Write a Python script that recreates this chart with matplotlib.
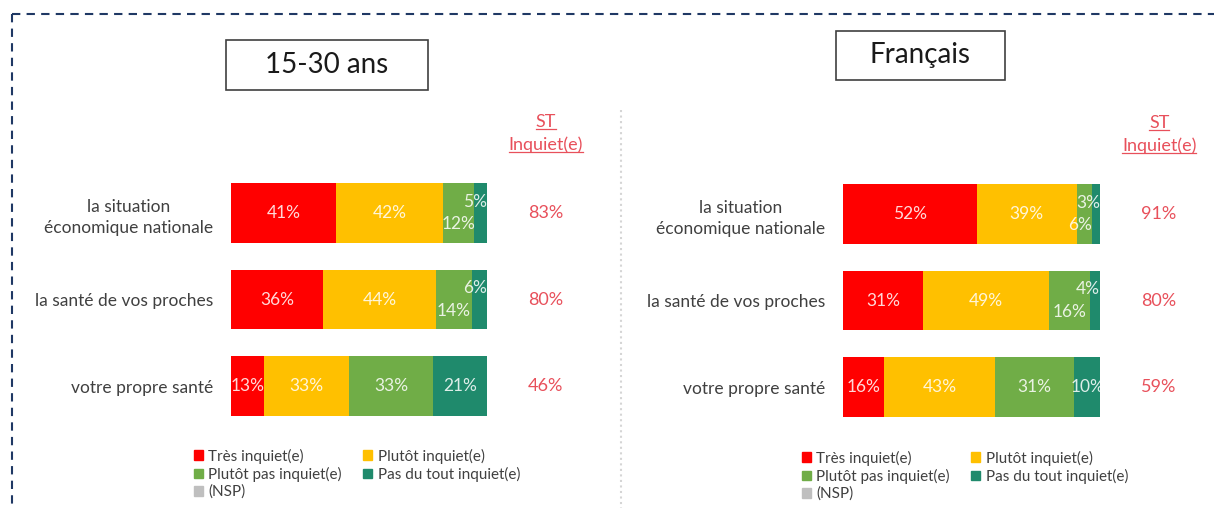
import numpy as np
import matplotlib.pyplot as plt
from matplotlib.patches import Rectangle, Patch
from matplotlib.lines import Line2D

plt.rcParams['font.family'] = ['Lato', 'DejaVu Sans']

# data
items = ["la situation\néconomique nationale", "la santé de vos proches", "votre propre santé"]
series = ["Très inquiet(e)", "Plutôt inquiet(e)", "Plutôt pas inquiet(e)", "Pas du tout inquiet(e)", "(NSP)"]
colors = ["#FF0000", "#FFC000", "#70AD47", "#1F8A6C", "#BFBFBF"]

jeunes = [[41, 42, 12, 5], [36, 44, 14, 6], [13, 33, 33, 21]]
jeunes_st = [83, 80, 46]
francais = [[52, 39, 6, 3], [31, 49, 16, 4], [16, 43, 31, 10]]
francais_st = [91, 80, 59]

W, H = 1214, 508
fig = plt.figure(figsize=(W / 100, H / 100), dpi=100)
red_txt = "#E8505B"


def px_axes(x0, y0, x1, y1):
    return fig.add_axes([x0 / W, 1 - y1 / H, (x1 - x0) / W, (y1 - y0) / H])


def draw_panel(ax, data, st):
    data = np.array(data)
    rows = np.arange(len(items))
    left = np.zeros(len(items))
    n = data.shape[1]
    for j in range(n):
        vals = data[:, j]
        ax.barh(rows, vals, left=left, height=0.69, color=colors[j])
        for i, v in enumerate(vals):
            last = data[i, -1]
            dy, ha, xx = 0, "center", left[i] + v / 2
            # small end segment: Excel pushes labels apart
            if last < 8 and j == n - 1:
                dy, ha, xx = 8, "right", 100
            elif last < 8 and j == n - 2:
                dy = -8
                if v < 8:
                    ha, xx = "right", left[i] + v
            ax.annotate(f"{v}%", (xx, i), xytext=(0, dy), textcoords="offset points",
                        ha=ha, va="center", fontsize=12.5, color="white", alpha=0.85,
                        annotation_clip=False)
        left += vals
    for i, v in enumerate(st):
        ax.text(123, i, f"{v}%", ha="center", va="center", fontsize=13, color=red_txt, clip_on=False)
    t1 = ax.text(123, -1.05, "ST", ha="center", va="center", fontsize=13, color=red_txt)
    t2 = ax.text(123, -0.79, "Inquiet(e)", ha="center", va="center", fontsize=13, color=red_txt)
    ax.set_xlim(0, 100)
    ax.set_ylim(2.5, -0.5)
    ax.set_yticks(np.arange(len(items)))
    ax.set_yticklabels(items, fontsize=12.5, color="#404040", multialignment="center",
                       linespacing=1.45)
    ax.tick_params(axis="y", length=0, pad=13)
    ax.set_xticks([])
    for s in ax.spines.values():
        s.set_visible(False)
    return [t1, t2]


ax1 = px_axes(231, 169.75, 487, 429.25)
ax2 = px_axes(843, 169.75 + 1, 1100, 429.25 + 1)
heads = draw_panel(ax1, jeunes, jeunes_st) + draw_panel(ax2, francais, francais_st)

# title boxes
for (x0, y0, x1, y1), label in [((226, 40, 428, 90), "15-30 ans"), ((836, 31, 1005, 80), "Français")]:
    fig.add_artist(Rectangle((x0 / W, 1 - y1 / H), (x1 - x0) / W, (y1 - y0) / H,
                             transform=fig.transFigure, fill=False, edgecolor="#404040", lw=1.2))
    fig.text((x0 + x1) / 2 / W, 1 - (y0 + y1) / 2 / H, label, ha="center", va="center",
             fontsize=20, color="#1a1a1a")

# dashed frame and divider
fig.add_artist(Line2D([12 / W, 1], [1 - 14 / H] * 2, transform=fig.transFigure,
                      color="#1F3864", lw=1.5, linestyle=(0, (4, 3))))
fig.add_artist(Line2D([12 / W] * 2, [1 - 14 / H, 0], transform=fig.transFigure,
                      color="#1F3864", lw=1.5, linestyle=(0, (4, 3))))
fig.add_artist(Line2D([621 / W] * 2, [1 - 110 / H, 0], transform=fig.transFigure,
                      color="#D5D5D5", lw=1.5, linestyle=":"))

# legends
handles = [Patch(color=c) for c in colors]
order = [0, 2, 4, 1, 3]
for x, y in [(186, 441), (794, 443)]:
    fig.legend([handles[k] for k in order], [series[k] for k in order], ncol=2,
               loc="upper left", bbox_to_anchor=(x / W, 1 - y / H), frameon=False,
               fontsize=11, handlelength=0.6, handleheight=0.6, handletextpad=0.35,
               labelspacing=0.2, columnspacing=1.4, borderpad=0, labelcolor="#404040")

# underline the ST headers
fig.canvas.draw()
r = fig.canvas.get_renderer()
for t in heads:
    bb = t.get_window_extent(r)
    fig.add_artist(Line2D([bb.x0 / W, bb.x1 / W], [(bb.y0 + 1) / H] * 2,
                          transform=fig.transFigure, color=red_txt, lw=0.9))

fig.savefig("out.png", dpi=100)
